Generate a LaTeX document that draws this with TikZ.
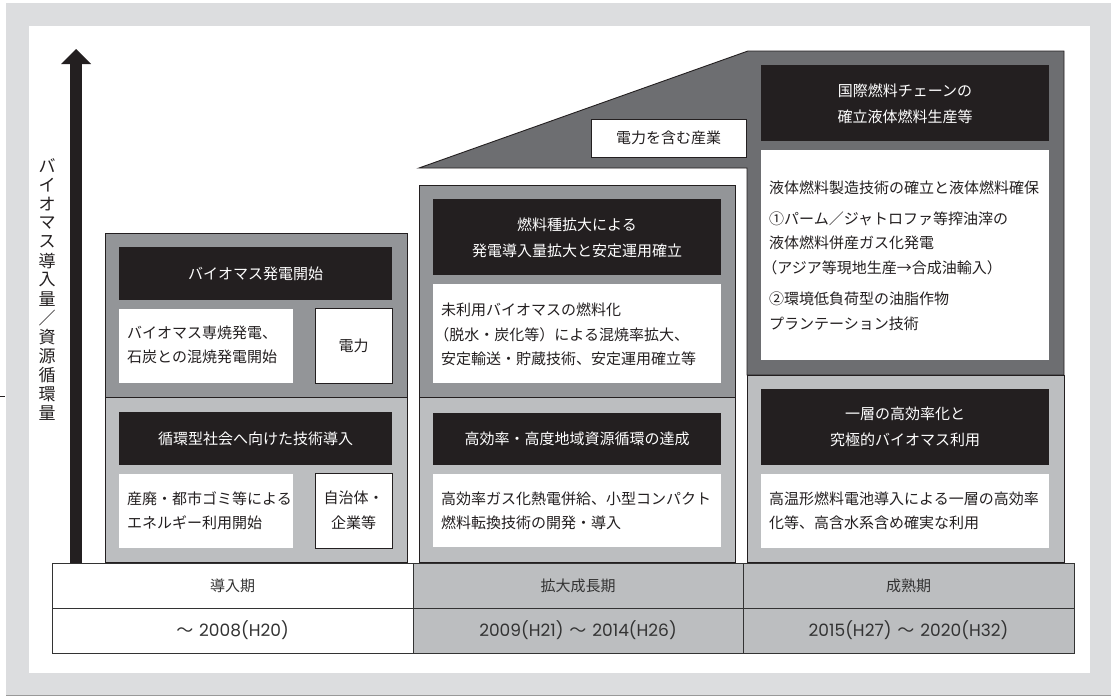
\documentclass[tikz,border=0pt]{standalone}
\usepackage{fontspec}
\setmainfont{Noto Sans CJK JP}
\newfontfamily\numfont{Poppins}
\newfontfamily\cjkfont{Noto Sans CJK JP}
\definecolor{ink}{HTML}{231F20}
\definecolor{frame}{HTML}{DCDDDF}
\definecolor{midgray}{HTML}{939598}
\definecolor{lightgray}{HTML}{BCBEC0}
\definecolor{darkgray}{HTML}{6D6E71}
\definecolor{tabtext}{HTML}{333333}
\newcommand{\lparen}{\hspace*{-0.45em}（}
\newcommand{\wave}{\hspace{0.35em}{\cjkfont ～}\hspace{0.35em}}
\tikzset{
  body/.style={anchor=west, inner sep=0pt, align=left, text=ink, font=\fontsize{15}{24.5}\selectfont},
  headtext/.style={inner sep=0pt, align=center, text=white, font=\fontsize{15}{26}\selectfont},
  boxtext/.style={inner sep=0pt, align=center, text=ink, font=\fontsize{15}{25}\selectfont},
  tabcjk/.style={inner sep=0pt, text=tabtext, font=\fontsize{15}{18}\selectfont},
  tabnum/.style={inner sep=0pt, text=tabtext, font=\numfont\fontsize{17}{18}\selectfont},
  edge/.style={draw=ink, line width=0.9pt},
  blackbox/.style={fill=ink},
  whitebox/.style={fill=white},
  vlabel/.style={inner sep=0pt, text=ink, font=\fontsize{17}{17}\selectfont},
}
\begin{document}
\begin{tikzpicture}[x=1pt,y=-1pt]
% background and frame
\fill[white] (0,0) rectangle (1111,696);
\useasboundingbox (0,0) rectangle (1111,696);
\fill[frame] (6,3) rectangle (1111,695);
\draw[gray!80, line width=0.8pt] (6,695) -- (1111,695);
\fill[white] (29,26) rectangle (1090,673);
\draw[ink, line width=1pt] (0,396) -- (5,396);

% right column upper polygon
\filldraw[fill=darkgray, edge] (419,168) -- (748,51) -- (1064,51) -- (1064,375) -- (747,375) -- (747,168) -- cycle;
\filldraw[fill=lightgray, edge] (747,375) rectangle (1064,562);

% left column
\filldraw[fill=midgray, edge] (105,233) rectangle (407,397);
\filldraw[fill=lightgray, edge] (105,397) rectangle (407,562);

% middle column
\filldraw[fill=midgray, edge] (419,185) rectangle (735,397);
\filldraw[fill=lightgray, edge] (419,397) rectangle (735,562);

% ---- left column contents
\fill[blackbox] (119,247) rectangle (392,300);
\node[headtext] (h1) at (255.5,273.5) {バイオマス発電開始};
\fill[whitebox] (119,309) rectangle (293,383);
\node[body] (b1) at (127,345) {バイオマス専焼発電、\\石炭との混焼発電開始};
\filldraw[fill=white, edge] (315,308) rectangle (392,383);
\node[boxtext] (k1) at (353.5,345.5) {電力};

\fill[blackbox] (119,412) rectangle (392,465);
\node[headtext] (h2) at (255.5,438.5) {循環型社会へ向けた技術導入};
\fill[whitebox] (119,474) rectangle (293,548);
\node[body] (b2) at (127,510.5) {産廃・都市ゴミ等による\\エネルギー利用開始};
\filldraw[fill=white, edge] (315,473) rectangle (392,548);
\node[boxtext] (k2) at (353.5,510.5) {自治体・\\企業等};

% ---- middle column contents
\fill[blackbox] (433,199) rectangle (721,275);
\node[headtext] (h3) at (577,237.5) {燃料種拡大による\\発電導入量拡大と安定運用確立};
\fill[whitebox] (433,284) rectangle (721,383);
\node[body] (b3) at (441,334.5) {未利用バイオマスの燃料化\\\lparen 脱水・炭化等）による混焼率拡大、\\安定輸送・貯蔵技術、安定運用確立等};

\fill[blackbox] (433,413) rectangle (721,465);
\node[headtext] (h4) at (577,439) {高効率・高度地域資源循環の達成};
\fill[whitebox] (433,474) rectangle (721,547);
\node[body] (b4) at (441,511) {高効率ガス化熱電併給、小型コンパクト\\燃料転換技術の開発・導入};

% ---- right column contents
\filldraw[fill=white, edge] (591,119) rectangle (746,157);
\node[boxtext] (k3) at (668.5,138) {電力を含む産業};

\fill[blackbox] (761,65) rectangle (1049,141);
\node[headtext] (h5) at (905,104) {国際燃料チェーンの\\確立液体燃料生産等};
\fill[whitebox] (761,150) rectangle (1049,360);
\node[body] (b5a) at (769,187.5) {液体燃料製造技術の確立と液体燃料確保};
\node[body] (b5b) at (769,243) {①パーム／ジャトロファ等搾油滓の\\液体燃料併産ガス化発電\\\lparen アジア等現地生産→合成油輸入）};
\node[body] (b5c) at (769,311.5) {②環境低負荷型の油脂作物\\プランテーション技術};

\fill[blackbox] (761,389) rectangle (1049,465);
\node[headtext] (h6) at (905,427) {一層の高効率化と\\究極的バイオマス利用};
\fill[whitebox] (761,474) rectangle (1049,548);
\node[body] (b6) at (769,511) {高温形燃料電池導入による一層の高効率\\化等、高含水系含め確実な利用};

% ---- table
\fill[white] (52,563) rectangle (413,653);
\fill[lightgray] (413,563) rectangle (1074,653);
\draw[tabtext, line width=0.8pt] (52,563) rectangle (1074,653);
\draw[tabtext, line width=0.8pt] (52,608) -- (1074,608);
\draw[tabtext, line width=0.8pt] (413,563) -- (413,653);
\draw[tabtext, line width=0.8pt] (743,563) -- (743,653);
\node[tabcjk] (t1) at (232.5,585.5) {導入期};
\node[tabcjk] (t2) at (578,585.5) {拡大成長期};
\node[tabcjk] (t3) at (908.5,585.5) {成熟期};
\node[tabnum] (y1) at (232.5,630.5) {{\cjkfont ～}\hspace{0.35em}2008(H20)};
\node[tabnum] (y2) at (578,630.5) {2009(H21)\wave 2014(H26)};
\node[tabnum] (y3) at (908.5,630.5) {2015(H27)\wave 2020(H32)};

% ---- axis arrow
\fill[ink] (70,64) rectangle (82,563);
\fill[ink] (61,64) -- (76,49) -- (91,64) -- cycle;
\coordinate (arrowtip) at (76,49);

% ---- vertical label
\foreach \c [count=\i from 0] in {バ,イ,オ,マ,ス,導,入,量,／,資,源,循,環,量}{
  \node[vlabel] (v\i) at (47,{166+19*\i}) {\c};
}
\end{tikzpicture}
\end{document}
